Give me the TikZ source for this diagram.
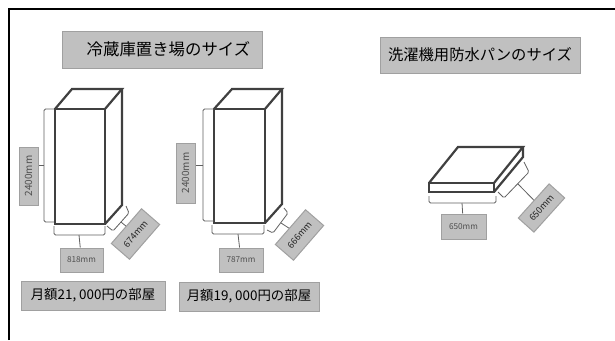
\documentclass[tikz,border=0pt]{standalone}
\usepackage{fontspec}
\setmainfont{Noto Sans CJK JP}
\usepackage{xcolor}
\definecolor{boxfill}{HTML}{C0C0C0}
\definecolor{boxline}{HTML}{A0A0A0}
\definecolor{bodyline}{HTML}{404040}
\definecolor{braceline}{HTML}{606060}
\definecolor{sizetext}{HTML}{505050}
\tikzset{
  labelbox/.style={draw=boxline, fill=boxfill, line width=1pt, inner sep=0pt, align=center},
  titlebox/.style={labelbox, font=\fontsize{16.4}{16.4}\selectfont, minimum height=37pt},
  rentbox/.style={labelbox, font=\fontsize{13.4}{13.4}\selectfont, minimum width=144pt, minimum height=29pt},
  sizebox/.style={labelbox, text=sizetext, font=\fontsize{8.2}{8.2}\selectfont},
  tallbox/.style={sizebox, font=\fontsize{10}{10}\selectfont},
  tiltbox/.style={sizebox, text=black!85, font=\fontsize{9}{9}\selectfont},
  bodyedge/.style={draw=bodyline, line width=2.2pt, line join=miter},
  brace/.style={draw=braceline, line width=0.8pt, rounded corners=1.5pt}
}
\begin{document}
\begin{tikzpicture}[x=1pt,y=-1pt]
\useasboundingbox (0,0) rectangle (615,340);

% outer frame
\node[coordinate] (frameA) at (9,340) {};
\node[coordinate] (frameB) at (9,9) {};
\node[coordinate] (frameC) at (615,9) {};
\draw[line width=1.5pt, black] (frameA)--(frameB)--(frameC);

% titles
\node[titlebox, minimum width=200pt] (titleFridge) at (162,49.5) {\hspace*{13pt}冷蔵庫置き場のサイズ};
\node[titlebox, minimum width=200pt, minimum height=36pt, font=\fontsize{15.3}{15.3}\selectfont] (titlePan) at (480,55) {洗濯機用防水パンのサイズ};

% first fridge
\node[coordinate] (A) at (55,109) {};
\node[coordinate] (B) at (105,109) {};
\node[coordinate] (C) at (105,224) {};
\node[coordinate] (D) at (55,224) {};
\node[coordinate] (E) at (72,89) {};
\node[coordinate] (F) at (122,89) {};
\node[coordinate] (G) at (122,205) {};

\draw[bodyedge] (A)--(B)--(C)--(D)--cycle;
\draw[bodyedge] (A)--(E)--(F)--(B);
\draw[bodyedge] (F)--(G)--(C);

\node[tallbox, minimum width=58pt, minimum height=19pt, rotate=90] (heightA) at (28.5,176) {2400mm};
\node[sizebox, minimum width=43pt, minimum height=24pt] (widthA) at (81.5,260) {818mm};
\node[tiltbox, minimum width=46pt, minimum height=24pt, rotate=49] (depthA) at (135.5,234) {674mm};
\node[rentbox] (rentA) at (93,295.5) {月額21, 000円の部屋};

\node[coordinate] (a1) at (54,109) {};
\node[coordinate] (a2) at (44,109) {};
\node[coordinate] (a3) at (44,222) {};
\node[coordinate] (a4) at (54,222) {};
\node[coordinate] (a5) at (44,165) {};
\draw[brace] (a1)--(a2)--(a3)--(a4);
\draw[brace] (a5)--(a5-|heightA.south);

\node[coordinate] (b1) at (54,226) {};
\node[coordinate] (b2) at (54,235) {};
\node[coordinate] (b3) at (105,235) {};
\node[coordinate] (b4) at (105,226) {};
\node[coordinate] (b5) at (79,235) {};
\draw[brace] (b1)--(b2)--(b3)--(b4);
\draw[brace] (b5)--(widthA);

\node[coordinate] (c1) at (107,226) {};
\node[coordinate] (c2) at (113,231) {};
\node[coordinate] (c3) at (129,213) {};
\node[coordinate] (c4) at (126,206) {};
\node[coordinate] (c5) at (121,222) {};
\draw[brace] (c1)--(c2)--(c3)--(c4);
\draw[brace] (c5)--(depthA);

% second fridge
\node[coordinate] (H) at (214,109) {};
\node[coordinate] (I) at (265,109) {};
\node[coordinate] (J) at (265,223) {};
\node[coordinate] (K) at (214,223) {};
\node[coordinate] (L) at (232,89) {};
\node[coordinate] (M) at (282,89) {};
\node[coordinate] (N) at (282,204) {};

\draw[bodyedge] (H)--(I)--(J)--(K)--cycle;
\draw[bodyedge] (H)--(L)--(M)--(I);
\draw[bodyedge] (M)--(N)--(J);

\node[tallbox, minimum width=60pt, minimum height=19pt, rotate=90] (heightB) at (185.5,173) {2400mm};
\node[sizebox, minimum width=44pt, minimum height=24pt] (widthB) at (241,260) {787mm};
\node[tiltbox, minimum width=46pt, minimum height=24pt, rotate=49] (depthB) at (299.5,235) {666mm};
\node[rentbox, minimum width=140pt] (rentB) at (249,296.5) {月額19, 000円の部屋};

\node[coordinate] (d1) at (214,109) {};
\node[coordinate] (d2) at (203,109) {};
\node[coordinate] (d3) at (203,221) {};
\node[coordinate] (d4) at (214,221) {};
\node[coordinate] (d5) at (203,165) {};
\draw[brace] (d1)--(d2)--(d3)--(d4);
\draw[brace] (d5)--(d5-|heightB.south);

\node[coordinate] (e1) at (212,225) {};
\node[coordinate] (e2) at (212,234) {};
\node[coordinate] (e3) at (264,234) {};
\node[coordinate] (e4) at (264,225) {};
\node[coordinate] (e5) at (238,234) {};
\draw[brace] (e1)--(e2)--(e3)--(e4);
\draw[brace] (e5)--(widthB);

\node[coordinate] (f1) at (267,230) {};
\node[coordinate] (f2) at (273,233) {};
\node[coordinate] (f3) at (288,213) {};
\node[coordinate] (f4) at (284,208) {};
\node[coordinate] (f5) at (281,223) {};
\draw[brace] (f1)--(f2)--(f3)--(f4);
\draw[brace] (f5)--(depthB);

% waterproof pan
\node[coordinate] (P) at (429,183) {};
\node[coordinate] (Q) at (494,183) {};
\node[coordinate] (R) at (494,192) {};
\node[coordinate] (S) at (429,192) {};
\node[coordinate] (T) at (458,147) {};
\node[coordinate] (U) at (523,147) {};
\node[coordinate] (V) at (523,157) {};

\draw[bodyedge] (P)--(Q)--(R)--(S)--cycle;
\draw[bodyedge] (P)--(T)--(U)--(Q);
\draw[bodyedge] (U)--(V)--(R);

\node[sizebox, minimum width=45pt, minimum height=25pt] (widthP) at (463.5,226.5) {650mm};
\node[tiltbox, minimum width=46pt, minimum height=21pt, rotate=48] (depthP) at (541.5,208) {650mm};

\node[coordinate] (g1) at (429,196) {};
\node[coordinate] (g2) at (429,203) {};
\node[coordinate] (g3) at (496,203) {};
\node[coordinate] (g4) at (496,196) {};
\node[coordinate] (g5) at (462,203) {};
\draw[brace] (g1)--(g2)--(g3)--(g4);
\draw[brace] (g5)--(widthP);

\node[coordinate] (h1) at (498,192) {};
\node[coordinate] (h2) at (504,198) {};
\node[coordinate] (h3) at (529,172) {};
\node[coordinate] (h4) at (524,162) {};
\node[coordinate] (h5) at (518,184) {};
\draw[brace] (h1)--(h2)--(h3)--(h4);
\draw[brace] (h5)--(depthP);

\end{tikzpicture}
\end{document}
